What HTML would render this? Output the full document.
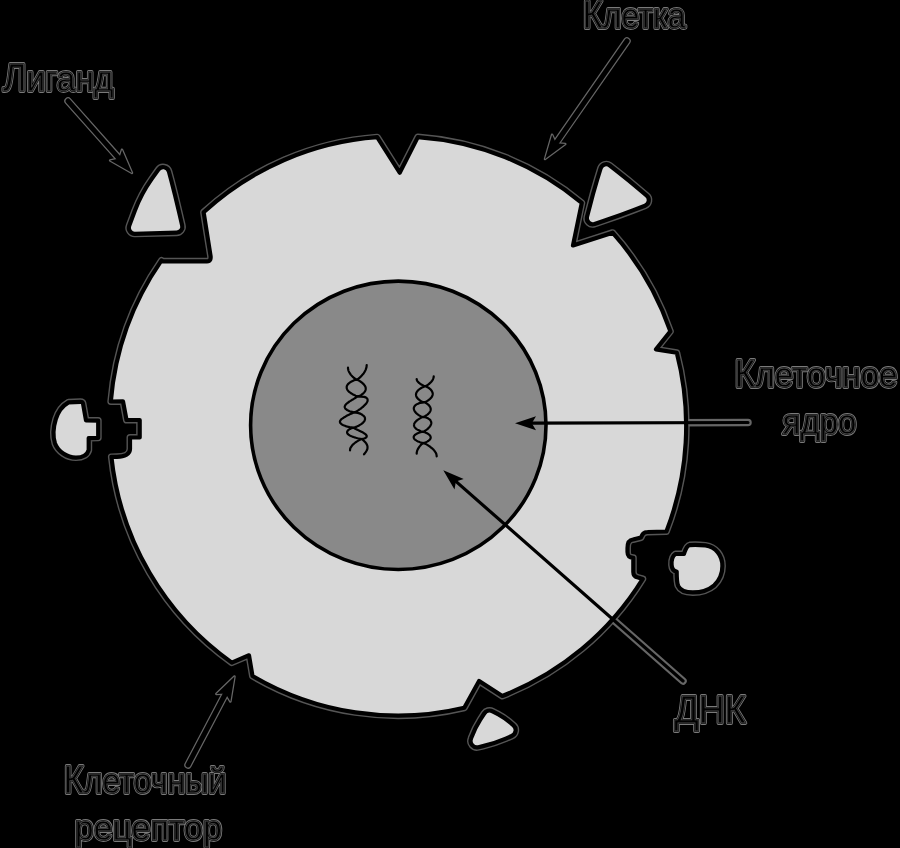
<!DOCTYPE html>
<html><head><meta charset="utf-8"><style>
html,body{margin:0;padding:0;background:#000;width:900px;height:848px;overflow:hidden}
svg{display:block;will-change:transform}
text{font-family:"Liberation Sans",sans-serif}
</style></head><body>
<svg width="900" height="848" viewBox="0 0 900 848">
<rect width="900" height="848" fill="#000"/>
<path d="M377.2 137.2L399.7 172.7L417.8 137.1A288.2 289.6 0 0 1 581.8 202.9L573 245.5L612.6 232.7A288.2 289.6 0 0 1 670.4 331.4L656 349.4L676.8 352.8A288.2 289.6 0 0 1 666.4 531.5L647.5 532 C643.5 532 642.5 534 641 537.5 L633 539.5 C628 540 627.5 544 627.5 548 L627.5 552 C627.5 556 629 557.5 633.3 557.8 L633.3 572 C633.3 575.5 635 577 638 577.5 L642.8 578.9A288.2 289.6 0 0 1 502.3 696L479.1 681L464.3 707.8A288.2 289.6 0 0 1 252.5 676L249 655.3L231.8 662.6A288.2 289.6 0 0 1 111.4 456.9L117 456.8 C125 456.8 130 454 130 449 L130 437.5 L139.7 437.5 L139.7 420 L126.5 420 L123 401.4 L110.8 401.5A288.2 289.6 0 0 1 161.5 260.4L162.5 261.3 L207 261.3 C210.5 261.3 211 258.5 210.5 255.5 L203.6 212.2A288.2 289.6 0 0 1 377.2 137.2Z" fill="none" stroke="#555555" stroke-width="7" stroke-linejoin="round"/>
<path d="M627 41 L556 143.2" fill="none" stroke="#666666" stroke-width="7.5" stroke-linecap="round"/>
<path d="M545 159 L565.3 143.9 L556 143.2 L552.1 134.7 Z" fill="#666666" stroke="#666666" stroke-width="2.5" stroke-linejoin="round"/>
<path d="M68 101 L119.2 158.6" fill="none" stroke="#666666" stroke-width="7.5" stroke-linecap="round"/>
<path d="M132 173 L122 149.7 L119.2 158.6 L110.1 160.4 Z" fill="#666666" stroke="#666666" stroke-width="2.5" stroke-linejoin="round"/>
<path d="M188 765 L225.6 693.5" fill="none" stroke="#666666" stroke-width="7.5" stroke-linecap="round"/>
<path d="M234.5 676.5 L216.3 694 L225.6 693.5 L230.4 701.5 Z" fill="#666666" stroke="#666666" stroke-width="2.5" stroke-linejoin="round"/>
<path d="M748 422.5 L531.8 423.2" fill="none" stroke="#666666" stroke-width="7.5" stroke-linecap="round"/>
<path d="M515 423.3 L536 430.2 L531.8 423.2 L536 416.2 Z" fill="#666666" stroke="#666666" stroke-width="2.5" stroke-linejoin="round"/>
<path d="M683 681 L455.9 481.4" fill="none" stroke="#666666" stroke-width="7.5" stroke-linecap="round"/>
<path d="M443.3 470.3 L454.5 489.4 L455.9 481.4 L463.7 478.9 Z" fill="#666666" stroke="#666666" stroke-width="2.5" stroke-linejoin="round"/>
<path d="M377.2 137.2L399.7 172.7L417.8 137.1A288.2 289.6 0 0 1 581.8 202.9L573 245.5L612.6 232.7A288.2 289.6 0 0 1 670.4 331.4L656 349.4L676.8 352.8A288.2 289.6 0 0 1 666.4 531.5L647.5 532 C643.5 532 642.5 534 641 537.5 L633 539.5 C628 540 627.5 544 627.5 548 L627.5 552 C627.5 556 629 557.5 633.3 557.8 L633.3 572 C633.3 575.5 635 577 638 577.5 L642.8 578.9A288.2 289.6 0 0 1 502.3 696L479.1 681L464.3 707.8A288.2 289.6 0 0 1 252.5 676L249 655.3L231.8 662.6A288.2 289.6 0 0 1 111.4 456.9L117 456.8 C125 456.8 130 454 130 449 L130 437.5 L139.7 437.5 L139.7 420 L126.5 420 L123 401.4 L110.8 401.5A288.2 289.6 0 0 1 161.5 260.4L162.5 261.3 L207 261.3 C210.5 261.3 211 258.5 210.5 255.5 L203.6 212.2A288.2 289.6 0 0 1 377.2 137.2Z" fill="#d8d8d8" stroke="#000" stroke-width="4.2" stroke-linejoin="round"/>
<path d="M158.4 169.6 A5.9 5.9 0 0 1 168.9 171.5 L171.3 180.4 A1194.5 1194.5 0 0 1 178.9 211.2 L182.2 225.4 A5.9 5.9 0 0 1 176.6 232.7 L134.9 233.8 A5.9 5.9 0 0 1 129.2 225.8 L134.8 210.8 A137.7 137.7 0 0 1 151.4 179.4Z" fill="#d8d8d8" stroke="#555555" stroke-width="7" stroke-linejoin="round"/>
<path d="M158.4 169.6 A5.9 5.9 0 0 1 168.9 171.5 L171.3 180.4 A1194.5 1194.5 0 0 1 178.9 211.2 L182.2 225.4 A5.9 5.9 0 0 1 176.6 232.7 L134.9 233.8 A5.9 5.9 0 0 1 129.2 225.8 L134.8 210.8 A137.7 137.7 0 0 1 151.4 179.4Z" fill="#d8d8d8" stroke="#000" stroke-width="4.2" stroke-linejoin="round"/>
<path d="M600.6 168.4 A5.9 5.9 0 0 1 609.9 165.5 L618.2 172 A574.3 574.3 0 0 1 639.7 189.6 L646.8 195.7 A5.9 5.9 0 0 1 645 205.7 L634.1 209.9 A724.3 724.3 0 0 1 604.8 220.5 L594.6 223.9 A5.9 5.9 0 0 1 587 216.8 L589.4 207.7 A637.8 637.8 0 0 1 597.2 179.5Z" fill="#d8d8d8" stroke="#555555" stroke-width="7" stroke-linejoin="round"/>
<path d="M600.6 168.4 A5.9 5.9 0 0 1 609.9 165.5 L618.2 172 A574.3 574.3 0 0 1 639.7 189.6 L646.8 195.7 A5.9 5.9 0 0 1 645 205.7 L634.1 209.9 A724.3 724.3 0 0 1 604.8 220.5 L594.6 223.9 A5.9 5.9 0 0 1 587 216.8 L589.4 207.7 A637.8 637.8 0 0 1 597.2 179.5Z" fill="#d8d8d8" stroke="#000" stroke-width="4.2" stroke-linejoin="round"/>
<path d="M484.2 713.5 A6.4 6.4 0 0 1 492.6 711.3 L498 714.2 A71.5 71.5 0 0 1 512.1 724.1 L513.6 725.4 A6.4 6.4 0 0 1 511.8 736 L505.8 738.6 A137.2 137.2 0 0 1 483 746.1 L478.4 747.2 A6.4 6.4 0 0 1 471 738.7 L471.5 737.2 A89.9 89.9 0 0 1 480.1 719.9Z" fill="#d8d8d8" stroke="#555555" stroke-width="7" stroke-linejoin="round"/>
<path d="M484.2 713.5 A6.4 6.4 0 0 1 492.6 711.3 L498 714.2 A71.5 71.5 0 0 1 512.1 724.1 L513.6 725.4 A6.4 6.4 0 0 1 511.8 736 L505.8 738.6 A137.2 137.2 0 0 1 483 746.1 L478.4 747.2 A6.4 6.4 0 0 1 471 738.7 L471.5 737.2 A89.9 89.9 0 0 1 480.1 719.9Z" fill="#d8d8d8" stroke="#000" stroke-width="4.2" stroke-linejoin="round"/>
<path d="M68.5 402.3 L80.5 401.8 C82 401.8 82.8 402.5 83 403.5 L86 420.5 L98.2 420.6 L98.2 437.8 L88.7 438.1 L88.7 450 C87.5 454.5 83 457.6 76 457.6 C67 457.6 58 451.5 55 443.5 C52.8 436.5 53.3 427 55.8 419 C58 412 62 406 68.5 402.3 Z" fill="#d8d8d8" stroke="#555555" stroke-width="7" stroke-linejoin="round"/>
<path d="M68.5 402.3 L80.5 401.8 C82 401.8 82.8 402.5 83 403.5 L86 420.5 L98.2 420.6 L98.2 437.8 L88.7 438.1 L88.7 450 C87.5 454.5 83 457.6 76 457.6 C67 457.6 58 451.5 55 443.5 C52.8 436.5 53.3 427 55.8 419 C58 412 62 406 68.5 402.3 Z" fill="#d8d8d8" stroke="#000" stroke-width="4.2" stroke-linejoin="round"/>
<path d="M 689.6 545.1 C 691.8 544.9 700.1 544.9 705.4 545.4 C 715.9 547 722.4 555.4 722.4 565.9 C 722.4 573.2 719 580.6 714.3 585.3 C 707.5 591.1 700.1 592.4 692.8 592.4 C 685.5 592.4 680.2 590.6 678.1 585.9 C 676.8 582.7 676.7 576.4 676.7 571.5 C 673.9 571.1 671.8 569 671.6 564.9 C 671.4 560.6 672.3 555.9 675.5 554 L 683.9 554 C 685.5 549.1 687 545.5 689.6 545.1 Z" fill="#d8d8d8" stroke="#555555" stroke-width="7" stroke-linejoin="round"/>
<path d="M 689.6 545.1 C 691.8 544.9 700.1 544.9 705.4 545.4 C 715.9 547 722.4 555.4 722.4 565.9 C 722.4 573.2 719 580.6 714.3 585.3 C 707.5 591.1 700.1 592.4 692.8 592.4 C 685.5 592.4 680.2 590.6 678.1 585.9 C 676.8 582.7 676.7 576.4 676.7 571.5 C 673.9 571.1 671.8 569 671.6 564.9 C 671.4 560.6 672.3 555.9 675.5 554 L 683.9 554 C 685.5 549.1 687 545.5 689.6 545.1 Z" fill="#d8d8d8" stroke="#000" stroke-width="4.2" stroke-linejoin="round"/>
<ellipse cx="398.3" cy="425.3" rx="147.7" ry="144.2" fill="#898989" stroke="#000" stroke-width="3.6"/>
<path d="M348 367.7 L348 368.6 L348.2 369.4 L348.4 370.3 L348.7 371.1 L349.1 372 L349.6 372.8 L350.1 373.7 L350.7 374.6 L351.4 375.4 L352.2 376.3 L353.1 377.1 L354.1 378 L355.2 378.8 L356.7 379.7 L358.3 380.3 L359.4 380.9 L360.4 381.5 L361.2 382.1 L362 382.7 L362.7 383.3 L363.3 383.9 L363.8 384.4 L364.3 385 L364.7 385.6 L365.1 386.2 L365.4 386.8 L365.6 387.4 L365.7 388 L365.7 388.6 L365.7 389.2 L365.6 389.8 L365.4 390.4 L365.2 391 L364.8 391.6 L364.4 392.1 L363.9 392.7 L363.3 393.3 L362.6 393.9 L361.9 394.5 L360.9 395.1 L359.8 395.7 L358 396.3 L357.1 396.9 L356.2 397.4 L355.2 398 L354.2 398.6 L353.3 399.2 L352.3 399.7 L351.4 400.3 L350.5 400.9 L349.6 401.4 L348.8 402 L348 402.6 L347.3 403.2 L346.6 403.7 L346 404.3 L345.5 404.9 L345.2 405.4 L344.9 406 L344.7 406.6 L344.7 407.2 L344.9 407.7 L345.2 408.3 L345.6 408.9 L346.3 409.4 L347.1 410 L348.2 410.6 L349.5 411.2 L351.1 411.7 L354 412.3 L357.7 412.9 L359.4 413.4 L360.7 413.9 L361.8 414.5 L362.6 415.1 L363.3 415.6 L363.9 416.1 L364.4 416.7 L364.7 417.2 L364.9 417.8 L365 418.4 L365 418.9 L365 419.4 L364.8 420 L364.6 420.6 L364.3 421.1 L363.9 421.6 L363.4 422.2 L362.9 422.8 L362.2 423.3 L361.5 423.9 L360.8 424.4 L359.9 424.9 L359 425.5 L358 426.1 L356.8 426.6 L355.5 427.1 L353.3 427.7 L351.8 428.1 L350.9 428.5 L350.1 428.9 L349.4 429.3 L348.8 429.7 L348.3 430.1 L347.9 430.5 L347.6 430.9 L347.3 431.3 L347.2 431.7 L347.1 432.1 L347.1 432.5 L347.2 432.9 L347.3 433.4 L347.6 433.8 L348 434.2 L348.5 434.6 L349 435 L349.7 435.4 L350.5 435.8 L351.4 436.2 L352.4 436.6 L353.5 437 L354.7 437.4 L356 437.8 L357.5 438.2 L359.3 438.6 L362 439 L363.2 440.1 L364.3 441.2 L365.3 442.3 L366.2 443.4 L366.8 444.5 L367.3 445.6 L367.5 446.6 L367.5 447.7 L367.4 448.8 L367 449.9 L366.4 451 L365.7 452.1 L364.9 453.2 L364 454.3 M366.7 365 L366.6 366.1 L366.5 367.1 L366.2 368.1 L365.9 369.2 L365.5 370.2 L364.9 371.3 L364.3 372.4 L363.6 373.4 L362.7 374.4 L361.8 375.5 L360.8 376.6 L359.7 377.6 L358.4 378.6 L356.7 379.7 L354.1 380.3 L352.7 380.9 L351.5 381.5 L350.5 382.1 L349.7 382.7 L348.9 383.3 L348.3 383.9 L347.8 384.4 L347.4 385 L347.1 385.6 L346.8 386.2 L346.7 386.8 L346.7 387.4 L346.7 388 L346.9 388.6 L347.1 389.2 L347.4 389.8 L347.8 390.4 L348.3 391 L348.9 391.6 L349.5 392.1 L350.3 392.7 L351.1 393.3 L352.1 393.9 L353.1 394.5 L354.3 395.1 L355.7 395.7 L358 396.3 L364.1 396.9 L365.7 397.4 L366.6 398 L367.1 398.6 L367.5 399.2 L367.6 399.7 L367.6 400.3 L367.6 400.9 L367.4 401.4 L367.1 402 L366.8 402.6 L366.4 403.2 L366 403.7 L365.5 404.3 L365 404.9 L364.4 405.4 L363.8 406 L363.2 406.6 L362.6 407.2 L361.9 407.7 L361.1 408.3 L360.4 408.9 L359.6 409.4 L358.7 410 L357.8 410.6 L356.8 411.2 L355.7 411.7 L354 412.3 L352.8 412.9 L351.7 413.4 L350.5 413.9 L349.4 414.5 L348.3 415.1 L347.2 415.6 L346.2 416.1 L345.2 416.7 L344.3 417.2 L343.4 417.8 L342.6 418.4 L341.8 418.9 L341.2 419.4 L340.7 420 L340.3 420.6 L340 421.1 L339.9 421.6 L340 422.2 L340.2 422.8 L340.6 423.3 L341.2 423.9 L341.9 424.4 L342.9 424.9 L344.2 425.5 L345.6 426.1 L347.4 426.6 L349.6 427.1 L353.3 427.7 L354 428.1 L354.8 428.5 L355.6 428.9 L356.4 429.3 L357.2 429.7 L358 430.1 L358.9 430.5 L359.7 430.9 L360.5 431.3 L361.3 431.7 L362.1 432.1 L362.9 432.5 L363.6 432.9 L364.2 433.4 L364.9 433.8 L365.4 434.2 L365.9 434.6 L366.2 435 L366.5 435.4 L366.7 435.8 L366.7 436.2 L366.7 436.6 L366.5 437 L366.1 437.4 L365.6 437.8 L364.9 438.2 L363.9 438.6 L362 439 L359.9 439.8 L358.4 440.6 L357.1 441.4 L355.8 442.2 L354.8 443 L353.8 443.8 L352.9 444.6 L352.1 445.5 L351.5 446.3 L351 447.1 L350.5 447.9 L350.2 448.7 L350.1 449.5 L350 450.3" fill="none" stroke="#000" stroke-width="2.2" stroke-linecap="round" stroke-linejoin="round"/>
<path d="M416.7 379 L416.7 379.5 L416.9 380 L417.1 380.6 L417.4 381.1 L417.8 381.6 L418.2 382.1 L418.8 382.6 L419.4 383.2 L420.1 383.7 L420.9 384.2 L421.8 384.7 L422.7 385.3 L423.8 385.8 L425.3 386.3 L427 386.9 L428 387.4 L428.9 388 L429.6 388.6 L430.2 389.2 L430.8 389.7 L431.3 390.3 L431.7 390.9 L432 391.4 L432.3 392 L432.5 392.6 L432.7 393.2 L432.7 393.7 L432.7 394.3 L432.6 394.9 L432.5 395.4 L432.2 396 L431.9 396.6 L431.6 397.2 L431.1 397.7 L430.6 398.3 L430.1 398.9 L429.4 399.4 L428.7 400 L427.8 400.6 L426.9 401.2 L425.8 401.7 L424 402.3 L420.3 402.8 L418.7 403.4 L417.5 403.9 L416.6 404.4 L415.9 404.9 L415.2 405.4 L414.8 406 L414.4 406.5 L414.1 407 L413.9 407.6 L413.8 408.1 L413.8 408.6 L413.9 409.1 L414 409.6 L414.2 410.2 L414.4 410.7 L414.7 411.2 L415.1 411.8 L415.5 412.3 L415.9 412.8 L416.5 413.3 L417 413.9 L417.7 414.4 L418.4 414.9 L419.1 415.4 L420 415.9 L421 416.5 L422.7 417 L426 417.5 L427.3 418.1 L428.3 418.6 L429.1 419.1 L429.8 419.6 L430.3 420.1 L430.6 420.7 L430.9 421.2 L431.1 421.7 L431.2 422.2 L431.3 422.8 L431.3 423.3 L431.2 423.8 L431 424.4 L430.8 424.9 L430.6 425.4 L430.3 425.9 L429.9 426.4 L429.5 427 L429.1 427.5 L428.5 428 L428 428.6 L427.4 429.1 L426.7 429.6 L426 430.1 L425.2 430.6 L424.2 431.2 L422.7 431.7 L420.7 432.1 L419.5 432.5 L418.5 432.9 L417.6 433.3 L416.8 433.7 L416.1 434.1 L415.6 434.5 L415 434.9 L414.6 435.3 L414.3 435.7 L414 436.1 L413.8 436.5 L413.7 436.9 L413.7 437.4 L413.8 437.8 L413.9 438.2 L414.1 438.6 L414.4 439 L414.8 439.4 L415.3 439.8 L415.9 440.2 L416.5 440.6 L417.2 441 L418 441.4 L419 441.8 L420 442.2 L421.3 442.6 L423.3 443 L425.6 443.9 L427.3 444.9 L428.8 445.9 L430.2 446.8 L431.4 447.8 L432.5 448.7 L433.5 449.6 L434.3 450.6 L435 451.6 L435.6 452.5 L436.1 453.4 L436.4 454.4 L436.6 455.4 L436.7 456.3 M433.7 376.3 L433.7 377 L433.5 377.7 L433.3 378.4 L433 379.2 L432.7 379.9 L432.2 380.6 L431.7 381.3 L431.1 382 L430.4 382.7 L429.6 383.4 L428.8 384.2 L427.8 384.9 L426.8 385.6 L425.3 386.3 L423.4 386.9 L422.2 387.4 L421.2 388 L420.3 388.6 L419.5 389.2 L418.8 389.7 L418.2 390.3 L417.6 390.9 L417.2 391.4 L416.8 392 L416.5 392.6 L416.2 393.2 L416.1 393.7 L416 394.3 L416 394.9 L416.1 395.4 L416.2 396 L416.4 396.6 L416.7 397.2 L417.1 397.7 L417.5 398.3 L418.1 398.9 L418.7 399.4 L419.4 400 L420.2 400.6 L421.1 401.2 L422.2 401.7 L424 402.3 L425.5 402.8 L426.5 403.4 L427.2 403.9 L427.9 404.4 L428.5 404.9 L429 405.4 L429.4 406 L429.8 406.5 L430.1 407 L430.4 407.6 L430.5 408.1 L430.7 408.6 L430.7 409.1 L430.7 409.6 L430.6 410.2 L430.5 410.7 L430.3 411.2 L430 411.8 L429.7 412.3 L429.3 412.8 L428.8 413.3 L428.3 413.9 L427.7 414.4 L427 414.9 L426.2 415.4 L425.4 415.9 L424.3 416.5 L422.7 417 L421.4 417.5 L420.4 418.1 L419.6 418.6 L418.8 419.1 L418 419.6 L417.3 420.1 L416.7 420.7 L416.1 421.2 L415.6 421.7 L415.2 422.2 L414.8 422.8 L414.5 423.3 L414.2 423.8 L414.1 424.4 L414 424.9 L414 425.4 L414.1 425.9 L414.3 426.4 L414.6 427 L414.9 427.5 L415.4 428 L416 428.6 L416.6 429.1 L417.4 429.6 L418.3 430.1 L419.4 430.6 L420.6 431.2 L422.7 431.7 L424.4 432.1 L425.4 432.5 L426.3 432.9 L427.1 433.3 L427.8 433.7 L428.4 434.1 L428.9 434.5 L429.4 434.9 L429.7 435.3 L430.1 435.7 L430.3 436.1 L430.5 436.5 L430.6 436.9 L430.7 437.4 L430.7 437.8 L430.6 438.2 L430.5 438.6 L430.2 439 L430 439.4 L429.6 439.8 L429.2 440.2 L428.7 440.6 L428.1 441 L427.5 441.4 L426.8 441.8 L425.9 442.2 L424.9 442.6 L423.3 443 L422.2 443.8 L421.3 444.5 L420.6 445.3 L419.9 446.1 L419.3 446.8 L418.8 447.6 L418.3 448.4 L417.9 449.1 L417.5 449.9 L417.2 450.6 L417 451.4 L416.8 452.2 L416.7 452.9 L416.7 453.7" fill="none" stroke="#000" stroke-width="2.2" stroke-linecap="round" stroke-linejoin="round"/>
<path d="M627 41 L556 143.2" fill="none" stroke="#000" stroke-width="5" stroke-linecap="round"/>
<path d="M545 159 L565.3 143.9 L556 143.2 L552.1 134.7 Z" fill="#000"/>
<path d="M68 101 L119.2 158.6" fill="none" stroke="#000" stroke-width="5" stroke-linecap="round"/>
<path d="M132 173 L122 149.7 L119.2 158.6 L110.1 160.4 Z" fill="#000"/>
<path d="M188 765 L225.6 693.5" fill="none" stroke="#000" stroke-width="5" stroke-linecap="round"/>
<path d="M234.5 676.5 L216.3 694 L225.6 693.5 L230.4 701.5 Z" fill="#000"/>
<path d="M748 422.5 L531.8 423.2" fill="none" stroke="#000" stroke-width="3.2" stroke-linecap="round"/>
<path d="M515 423.3 L536 430.2 L531.8 423.2 L536 416.2 Z" fill="#000"/>
<path d="M683 681 L455.9 481.4" fill="none" stroke="#000" stroke-width="3.2" stroke-linecap="round"/>
<path d="M443.3 470.3 L454.5 489.4 L455.9 481.4 L463.7 478.9 Z" fill="#000"/>
<text x="582.8" y="28" textLength="102.8" lengthAdjust="spacingAndGlyphs" fill="#000" stroke="#7a7a7a" stroke-width="3.8" stroke-linejoin="round"><tspan font-size="38">К</tspan><tspan font-size="35.5">л</tspan><tspan font-size="35.5">е</tspan><tspan font-size="35.5">т</tspan><tspan font-size="35.5">к</tspan><tspan font-size="35.5">а</tspan></text>
<text x="582.8" y="28" textLength="102.8" lengthAdjust="spacingAndGlyphs" fill="#000" stroke="#000" stroke-width="2.0" stroke-linejoin="round"><tspan font-size="38">К</tspan><tspan font-size="35.5">л</tspan><tspan font-size="35.5">е</tspan><tspan font-size="35.5">т</tspan><tspan font-size="35.5">к</tspan><tspan font-size="35.5">а</tspan></text>
<text x="582.8" y="28" textLength="102.8" lengthAdjust="spacingAndGlyphs" fill="#000" stroke="#4a4a4a" stroke-width="0.8"><tspan font-size="38">К</tspan><tspan font-size="35.5">л</tspan><tspan font-size="35.5">е</tspan><tspan font-size="35.5">т</tspan><tspan font-size="35.5">к</tspan><tspan font-size="35.5">а</tspan></text>
<text x="3" y="90.5" textLength="110.5" lengthAdjust="spacingAndGlyphs" fill="#000" stroke="#7a7a7a" stroke-width="3.8" stroke-linejoin="round"><tspan font-size="38">Л</tspan><tspan font-size="35.5">и</tspan><tspan font-size="35.5">г</tspan><tspan font-size="35.5">а</tspan><tspan font-size="35.5">н</tspan><tspan font-size="35.5">д</tspan></text>
<text x="3" y="90.5" textLength="110.5" lengthAdjust="spacingAndGlyphs" fill="#000" stroke="#000" stroke-width="2.0" stroke-linejoin="round"><tspan font-size="38">Л</tspan><tspan font-size="35.5">и</tspan><tspan font-size="35.5">г</tspan><tspan font-size="35.5">а</tspan><tspan font-size="35.5">н</tspan><tspan font-size="35.5">д</tspan></text>
<text x="3" y="90.5" textLength="110.5" lengthAdjust="spacingAndGlyphs" fill="#000" stroke="#4a4a4a" stroke-width="0.8"><tspan font-size="38">Л</tspan><tspan font-size="35.5">и</tspan><tspan font-size="35.5">г</tspan><tspan font-size="35.5">а</tspan><tspan font-size="35.5">н</tspan><tspan font-size="35.5">д</tspan></text>
<text x="734.5" y="387" textLength="163" lengthAdjust="spacingAndGlyphs" fill="#000" stroke="#7a7a7a" stroke-width="3.8" stroke-linejoin="round"><tspan font-size="38">К</tspan><tspan font-size="35.5">л</tspan><tspan font-size="35.5">е</tspan><tspan font-size="35.5">т</tspan><tspan font-size="35.5">о</tspan><tspan font-size="35.5">ч</tspan><tspan font-size="35.5">н</tspan><tspan font-size="35.5">о</tspan><tspan font-size="35.5">е</tspan></text>
<text x="734.5" y="387" textLength="163" lengthAdjust="spacingAndGlyphs" fill="#000" stroke="#000" stroke-width="2.0" stroke-linejoin="round"><tspan font-size="38">К</tspan><tspan font-size="35.5">л</tspan><tspan font-size="35.5">е</tspan><tspan font-size="35.5">т</tspan><tspan font-size="35.5">о</tspan><tspan font-size="35.5">ч</tspan><tspan font-size="35.5">н</tspan><tspan font-size="35.5">о</tspan><tspan font-size="35.5">е</tspan></text>
<text x="734.5" y="387" textLength="163" lengthAdjust="spacingAndGlyphs" fill="#000" stroke="#4a4a4a" stroke-width="0.8"><tspan font-size="38">К</tspan><tspan font-size="35.5">л</tspan><tspan font-size="35.5">е</tspan><tspan font-size="35.5">т</tspan><tspan font-size="35.5">о</tspan><tspan font-size="35.5">ч</tspan><tspan font-size="35.5">н</tspan><tspan font-size="35.5">о</tspan><tspan font-size="35.5">е</tspan></text>
<text x="782.5" y="434" textLength="74" lengthAdjust="spacingAndGlyphs" fill="#000" stroke="#7a7a7a" stroke-width="3.8" stroke-linejoin="round"><tspan font-size="35.5">я</tspan><tspan font-size="35.5">д</tspan><tspan font-size="35.5">р</tspan><tspan font-size="35.5">о</tspan></text>
<text x="782.5" y="434" textLength="74" lengthAdjust="spacingAndGlyphs" fill="#000" stroke="#000" stroke-width="2.0" stroke-linejoin="round"><tspan font-size="35.5">я</tspan><tspan font-size="35.5">д</tspan><tspan font-size="35.5">р</tspan><tspan font-size="35.5">о</tspan></text>
<text x="782.5" y="434" textLength="74" lengthAdjust="spacingAndGlyphs" fill="#000" stroke="#4a4a4a" stroke-width="0.8"><tspan font-size="35.5">я</tspan><tspan font-size="35.5">д</tspan><tspan font-size="35.5">р</tspan><tspan font-size="35.5">о</tspan></text>
<text x="674.5" y="722.5" textLength="71.3" lengthAdjust="spacingAndGlyphs" fill="#000" stroke="#7a7a7a" stroke-width="3.8" stroke-linejoin="round"><tspan font-size="38">Д</tspan><tspan font-size="38">Н</tspan><tspan font-size="38">К</tspan></text>
<text x="674.5" y="722.5" textLength="71.3" lengthAdjust="spacingAndGlyphs" fill="#000" stroke="#000" stroke-width="2.0" stroke-linejoin="round"><tspan font-size="38">Д</tspan><tspan font-size="38">Н</tspan><tspan font-size="38">К</tspan></text>
<text x="674.5" y="722.5" textLength="71.3" lengthAdjust="spacingAndGlyphs" fill="#000" stroke="#4a4a4a" stroke-width="0.8"><tspan font-size="38">Д</tspan><tspan font-size="38">Н</tspan><tspan font-size="38">К</tspan></text>
<text x="63.7" y="793" textLength="162.6" lengthAdjust="spacingAndGlyphs" fill="#000" stroke="#7a7a7a" stroke-width="3.8" stroke-linejoin="round"><tspan font-size="38">К</tspan><tspan font-size="35.5">л</tspan><tspan font-size="35.5">е</tspan><tspan font-size="35.5">т</tspan><tspan font-size="35.5">о</tspan><tspan font-size="35.5">ч</tspan><tspan font-size="35.5">н</tspan><tspan font-size="35.5">ы</tspan><tspan font-size="35.5">й</tspan></text>
<text x="63.7" y="793" textLength="162.6" lengthAdjust="spacingAndGlyphs" fill="#000" stroke="#000" stroke-width="2.0" stroke-linejoin="round"><tspan font-size="38">К</tspan><tspan font-size="35.5">л</tspan><tspan font-size="35.5">е</tspan><tspan font-size="35.5">т</tspan><tspan font-size="35.5">о</tspan><tspan font-size="35.5">ч</tspan><tspan font-size="35.5">н</tspan><tspan font-size="35.5">ы</tspan><tspan font-size="35.5">й</tspan></text>
<text x="63.7" y="793" textLength="162.6" lengthAdjust="spacingAndGlyphs" fill="#000" stroke="#4a4a4a" stroke-width="0.8"><tspan font-size="38">К</tspan><tspan font-size="35.5">л</tspan><tspan font-size="35.5">е</tspan><tspan font-size="35.5">т</tspan><tspan font-size="35.5">о</tspan><tspan font-size="35.5">ч</tspan><tspan font-size="35.5">н</tspan><tspan font-size="35.5">ы</tspan><tspan font-size="35.5">й</tspan></text>
<text x="74.8" y="840" textLength="147" lengthAdjust="spacingAndGlyphs" fill="#000" stroke="#7a7a7a" stroke-width="3.8" stroke-linejoin="round"><tspan font-size="35.5">р</tspan><tspan font-size="35.5">е</tspan><tspan font-size="35.5">ц</tspan><tspan font-size="35.5">е</tspan><tspan font-size="35.5">п</tspan><tspan font-size="35.5">т</tspan><tspan font-size="35.5">о</tspan><tspan font-size="35.5">р</tspan></text>
<text x="74.8" y="840" textLength="147" lengthAdjust="spacingAndGlyphs" fill="#000" stroke="#000" stroke-width="2.0" stroke-linejoin="round"><tspan font-size="35.5">р</tspan><tspan font-size="35.5">е</tspan><tspan font-size="35.5">ц</tspan><tspan font-size="35.5">е</tspan><tspan font-size="35.5">п</tspan><tspan font-size="35.5">т</tspan><tspan font-size="35.5">о</tspan><tspan font-size="35.5">р</tspan></text>
<text x="74.8" y="840" textLength="147" lengthAdjust="spacingAndGlyphs" fill="#000" stroke="#4a4a4a" stroke-width="0.8"><tspan font-size="35.5">р</tspan><tspan font-size="35.5">е</tspan><tspan font-size="35.5">ц</tspan><tspan font-size="35.5">е</tspan><tspan font-size="35.5">п</tspan><tspan font-size="35.5">т</tspan><tspan font-size="35.5">о</tspan><tspan font-size="35.5">р</tspan></text>
</svg>
</body></html>
